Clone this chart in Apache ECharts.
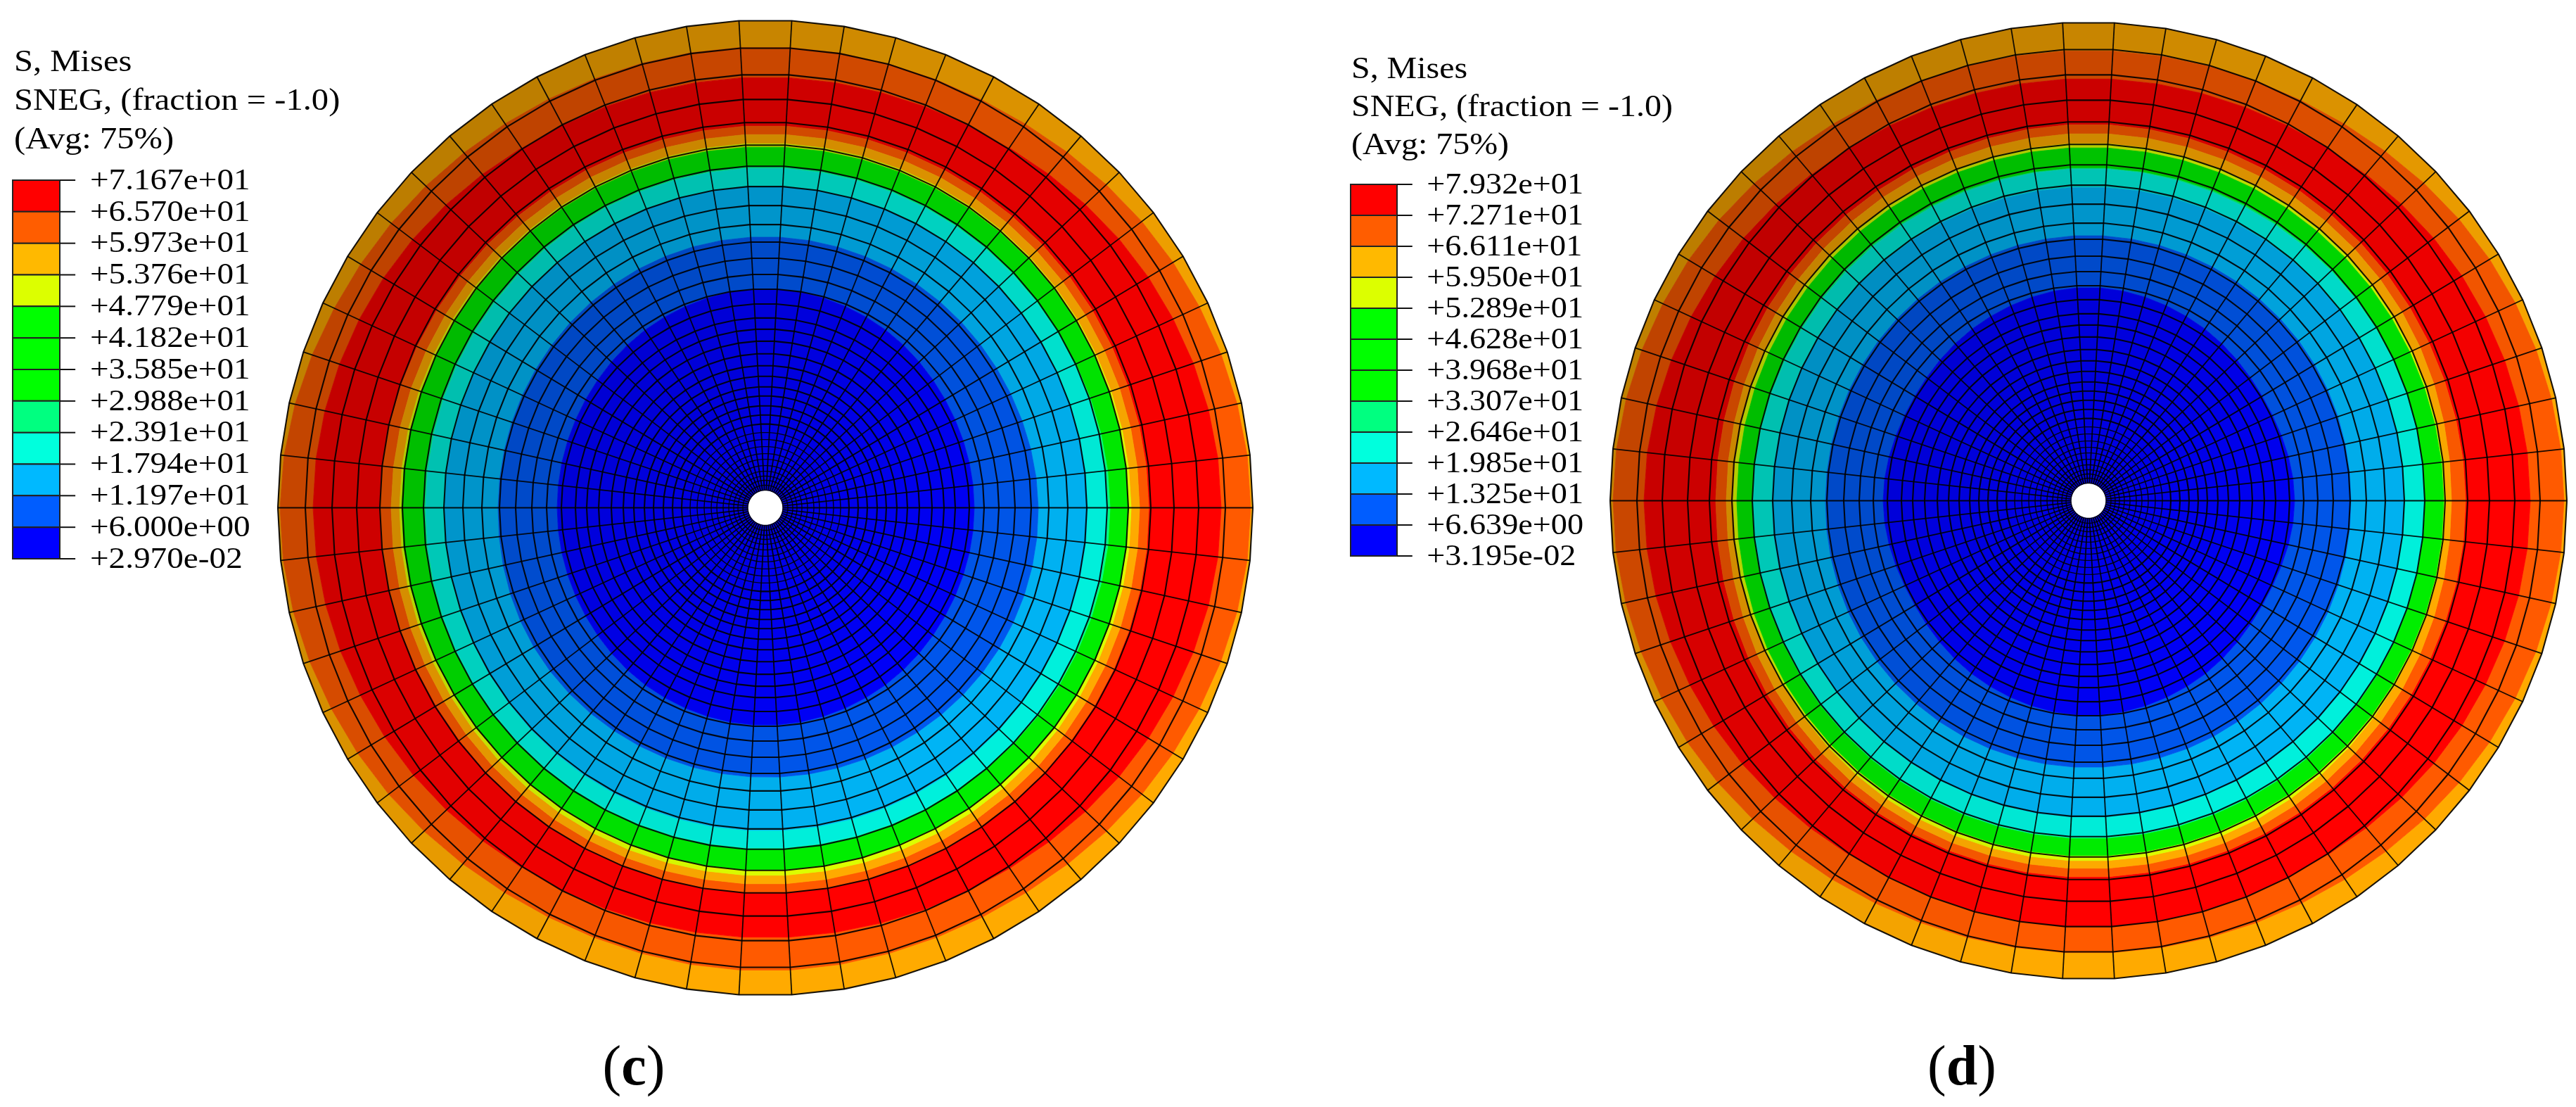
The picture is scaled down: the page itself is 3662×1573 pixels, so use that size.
<!DOCTYPE html>
<html>
<head>
<meta charset="utf-8">
<style>html,body{margin:0;padding:0;background:#fff}#c{width:3662px;height:1573px}</style>
<script src="https://cdn.jsdelivr.net/npm/echarts@6/dist/echarts.min.js"></script>
</head>
<body>
<div id="c"></div>
<script>
// ---------- legend ----------
const headerLines = ['S, Mises', 'SNEG, (fraction = -1.0)', '(Avg: 75%)'];
const legendLabelsC = ['+7.167e+01','+6.570e+01','+5.973e+01','+5.376e+01','+4.779e+01','+4.182e+01','+3.585e+01','+2.988e+01','+2.391e+01','+1.794e+01','+1.197e+01','+6.000e+00','+2.970e-02'];
const legendLabelsD = ['+7.932e+01','+7.271e+01','+6.611e+01','+5.950e+01','+5.289e+01','+4.628e+01','+3.968e+01','+3.307e+01','+2.646e+01','+1.985e+01','+1.325e+01','+6.639e+00','+3.195e-02'];
const legendColors = ['#ff0000','#ff5d00','#ffb900','#dcff00','#00ff00','#00ff00','#00ff00','#00ff80','#00ffdd','#00b9ff','#005dff','#0000ff'];
// ---------- contour bands, from the rim inward ----------
const bandColors = ['#ffaa00','#ff5a00','#ff0000','#ff5a00','#ffaa00','#dcff00','#00ee00','#00ff80','#00f0dc','#00b4f5','#0058f0','#0000ff'];
// contour radii read at 0,30,...,330 degrees (counter-clockwise from +x)
const contoursC = [
 [690,677,657,655,658,672,690,677,659,658,659,677],
 [648,636,616,612,616,634,643,632,616,611,617,636],
 [545,543,543,543,543,545,548,546,547,547,547,546],
 [532,531,531,531,531,531,532,533,535,535,535,533],
 [520,518,518,518,518,519,520,521,523,523,523,521],
 [516,515,514,513,514,515,517,516,515,515,515,516],
 [490,486,485,485,485,485,485,486,486,486,486,488],
 [487,484,483,483,483,483,483,484,484,484,484,486],
 [458,457,457,457,457,456,456,458,459,459,459,458],
 [388,384,384,385,384,381,380,384,383,383,385,388],
 [297,298,306,311,306,298,296,298,305,309,305,298]
];
const contoursD = [
 [676,666,645,640,645,664,676,666,648,643,648,666],
 [628,620,604,600,604,620,632,622,606,606,606,620],
 [536,533,533,535,533,532,530,533,535,535,535,535],
 [516,520,521,522,521,518,515,520,523,523,523,520],
 [507,507,507,508,507,506,505,507,512,512,512,508],
 [505,503,502,502,502,501,500,503,505,505,505,505],
 [478,477,475,473,475,477,478,479,480,480,480,479],
 [477,476,473,472,473,475,477,477,479,479,479,478],
 [449,448,447,446,447,449,450,450,450,450,450,450],
 [373,375,376,377,376,375,374,377,379,379,379,376],
 [293,288,296,303,296,288,292,288,298,305,298,288]
];
// ---------- mesh ----------
const ringsC = [693,654,616,581,548,516,486,457,430,403,378,355,332,311,290,270,254,237,219,202,187,172,159,145,132,119,107,97,87,77,69,60,52,45,39,32,25];
const ringsD = [680,642,606,570,539,507,478,449,422,395,372,348,326,306,286,266,250,233,215,199,184,169,156,143,130,117,105,95,85,76,68,59,51,44,38,32,25];
const spokeCount = 58;

const FONT = '"Liberation Serif", serif';
const BLACK = '#000';

function contourAt(arr, a) {
  const n = arr.length, t = (((a % 360) + 360) % 360) / (360 / n);
  const i = Math.floor(t), f = t - i;
  const p0 = arr[(i - 1 + n) % n], p1 = arr[i % n], p2 = arr[(i + 1) % n], p3 = arr[(i + 2) % n];
  return 0.5 * (2 * p1 + (p2 - p0) * f + (2 * p0 - 5 * p1 + 4 * p2 - p3) * f * f + (3 * p1 - p0 - 3 * p2 + p3) * f * f * f);
}
function shadeColor(hex, s) {
  const v = parseInt(hex.slice(1), 16);
  return 'rgb(' + Math.round((v >> 16 & 255) * s) + ',' + Math.round((v >> 8 & 255) * s) + ',' + Math.round((v & 255) * s) + ')';
}
function cellShade(r, a, R) {
  const rad = a * Math.PI / 180;
  const nx = r * Math.cos(rad) / R, ny = -r * Math.sin(rad) / R; // ny>0 = screen down
  return Math.max(0.7, Math.min(1, 0.9 + 0.12 * nx + 0.12 * ny));
}
function cellData(rings) {
  const out = [];
  for (let i = 0; i < rings.length - 1; i++)
    for (let j = 0; j < spokeCount; j++) out.push([rings[i + 1], j * 360 / spokeCount, i, j]);
  return out;
}
function fieldSeries(polarIndex, rings, contours) {
  return {
    type: 'custom', coordinateSystem: 'polar', polarIndex, silent: true, clip: false,
    progressive: 0, animation: false, z: 2,
    encode: { radius: 0, angle: 1 },
    data: cellData(rings),
    renderItem(params, api) {
      const i = api.value(2), j = api.value(3);
      const rOut = rings[i], rIn = rings[i + 1];
      const a0 = j * 360 / spokeCount, a1 = (j + 1) * 360 / spokeCount;
      const s = cellShade((rOut + rIn) / 2, (a0 + a1) / 2, rings[0]);
      const children = [];
      for (let k = 0; k < bandColors.length; k++) {
        const hi = (a) => k === 0 ? Infinity : contourAt(contours[k - 1], a);
        const lo = (a) => k === bandColors.length - 1 ? 0 : contourAt(contours[k], a);
        const o0 = Math.min(rOut, hi(a0)), o1 = Math.min(rOut, hi(a1));
        const n0 = Math.max(rIn, lo(a0)), n1 = Math.max(rIn, lo(a1));
        if (o0 <= n0 && o1 <= n1) continue;
        const pts = [api.coord([Math.max(o0, n0), a0]), api.coord([Math.max(o1, n1), a1]), api.coord([n1, a1]), api.coord([n0, a0])];
        const col = shadeColor(bandColors[k], s);
        children.push({ type: 'polygon', shape: { points: pts }, style: { fill: col, stroke: col, lineWidth: 0.8 } });
      }
      return { type: 'group', children };
    }
  };
}
function meshSeries(polarIndex, rings) {
  const spokes = [];
  for (let j = 0; j < spokeCount; j++) spokes.push(['s', j * 360 / spokeCount]);
  const circles = rings.map((r) => ['r', r]);
  return {
    type: 'custom', coordinateSystem: 'polar', polarIndex, silent: true, clip: false,
    progressive: 0, animation: false, z: 3,
    encode: { angle: 1 },
    dimensions: [{ name: 'kind', type: 'ordinal' }, 'v'],
    data: spokes.concat(circles),
    renderItem(params, api) {
      const item = spokes.concat(circles)[params.dataIndex];
      if (item[0] === 's') {
        return { type: 'polyline', shape: { points: [api.coord([rings[rings.length - 1], item[1]]), api.coord([rings[0], item[1]])] },
                 style: { stroke: BLACK, lineWidth: 1.8, fill: null, opacity: 0.9 } };
      }
      const pts = [];
      for (let j = 0; j <= spokeCount; j++) pts.push(api.coord([item[1], j * 360 / spokeCount]));
      return { type: 'polyline', shape: { points: pts },
               style: { stroke: BLACK, lineWidth: item[1] < 110 ? 1.4 : 2.1, fill: null, opacity: 0.9 } };
    }
  };
}
function legendSeries(gridIndex, labels, textScale) {
  const rows = labels.map((t, i) => [i]);
  return {
    type: 'custom', coordinateSystem: 'cartesian2d', xAxisIndex: gridIndex, yAxisIndex: gridIndex,
    silent: true, clip: false, animation: false, z: 4,
    encode: { y: 0 },
    data: rows,
    renderItem(params, api) {
      const i = api.value(0), ch = [];
      const tl = api.coord([1, i]);
      const lab = api.coord([1.64, i + 0.04]);
      const tr = api.coord([1.33, i]);
      if (i < legendColors.length) {
        const a = api.coord([0, i]), b = api.coord([1, i + 1]);
        ch.push({ type: 'rect', shape: { x: a[0], y: a[1], width: b[0] - a[0], height: b[1] - a[1] },
                  style: { fill: legendColors[i], stroke: '#222', lineWidth: 2 } });
      }
      ch.push({ type: 'line', shape: { x1: tl[0], y1: tl[1], x2: tr[0], y2: tr[1] }, style: { stroke: '#111', lineWidth: 2 } });
      ch.push({ type: 'text', x: lab[0], y: lab[1], scaleX: textScale,
                style: { text: labels[i], x: 0, y: 0, fill: BLACK, font: '42px ' + FONT, textAlign: 'left', textVerticalAlign: 'middle' } });
      return { type: 'group', children: ch };
    }
  };
}
function headerText(x, ys, scale) {
  return headerLines.map((t, i) => ({ type: 'text', x, y: ys[i], scaleX: scale, silent: true,
    style: { text: t, fill: BLACK, font: '45px ' + FONT, textAlign: 'left', textVerticalAlign: 'middle' } }));
}
function caption(x, letter) {
  return { type: 'text', x, y: 1520, silent: true,
    style: { text: '(' + '{b|' + letter + '})', fill: BLACK, font: '80px ' + FONT, textAlign: 'center', textVerticalAlign: 'middle',
      rich: { b: { font: 'bold 80px ' + FONT, fill: BLACK } } } };
}
const hiddenRadius = (i, max) => ({ polarIndex: i, type: 'value', min: 0, max, show: false });
const hiddenAngle = (i) => ({ polarIndex: i, type: 'value', min: 0, max: 360, startAngle: 0, clockwise: false, show: false });
const hiddenX = (i) => ({ gridIndex: i, type: 'value', min: 0, max: 1, show: false });
const hiddenY = (i) => ({ gridIndex: i, type: 'value', min: 0, max: 12, inverse: true, show: false });

const chart = echarts.init(document.getElementById('c'), null, { renderer: 'canvas' });
chart.setOption({
  backgroundColor: '#fff',
  animation: false,
  polar: [
    { center: [1088, 721.5], radius: ringsC[0] },
    { center: [2969, 711.5], radius: ringsD[0] }
  ],
  radiusAxis: [hiddenRadius(0, ringsC[0]), hiddenRadius(1, ringsD[0])],
  angleAxis: [hiddenAngle(0), hiddenAngle(1)],
  grid: [
    { left: 18, top: 256, width: 67, height: 538, show: false },
    { left: 1920, top: 262, width: 66, height: 528, show: false }
  ],
  xAxis: [hiddenX(0), hiddenX(1)],
  yAxis: [hiddenY(0), hiddenY(1)],
  series: [
    fieldSeries(0, ringsC, contoursC), meshSeries(0, ringsC),
    fieldSeries(1, ringsD, contoursD), meshSeries(1, ringsD),
    legendSeries(0, legendLabelsC, 1.125), legendSeries(1, legendLabelsD, 1.10)
  ],
  graphic: [
    ...headerText(20, [89, 144, 199], 1.08),
    ...headerText(1921, [99, 153, 207], 1.065),
    caption(901, 'c'),
    caption(2789, 'd')
  ]
});
</script>
</body>
</html>
